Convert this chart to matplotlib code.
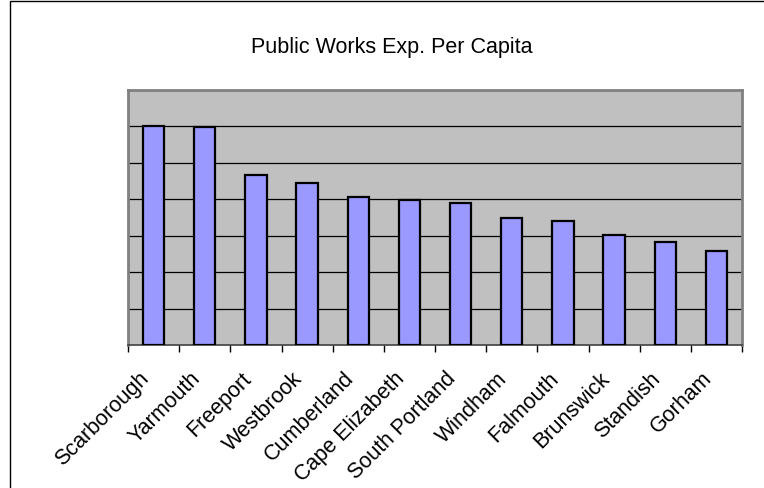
import matplotlib.pyplot as plt
import numpy as np
from matplotlib.patches import Rectangle
from matplotlib.transforms import ScaledTranslation

towns = ['Scarborough', 'Yarmouth', 'Freeport', 'Westbrook', 'Cumberland',
         'Cape Elizabeth', 'South Portland', 'Windham', 'Falmouth',
         'Brunswick', 'Standish', 'Gorham']
exp_per_capita = [6.00, 5.99, 4.66, 4.45, 4.07, 3.97, 3.91, 3.49, 3.40,
                  3.01, 2.82, 2.57]
y_max = 7
grid_levels = [1, 2, 3, 4, 5, 6]

plt.rcParams['font.family'] = ['Liberation Sans', 'DejaVu Sans']

fig = plt.figure(figsize=(7.64, 4.89), dpi=100)
# outer chart frame (runs off the right and bottom edges)
fig.patches.append(Rectangle((10/764, -0.05), 1.2, 1 - 2/489 + 0.05,
                             transform=fig.transFigure, fill=False,
                             edgecolor='black', linewidth=1.0))

ax = fig.add_axes([128/764, 1 - 346/489, (742 - 128)/764, (346 - 91)/489])
ax.set_facecolor('#c0c0c0')

x = np.arange(len(towns))
ax.bar(x, exp_per_capita, width=0.42, color='#9999ff', edgecolor='black',
       linewidth=1.6, zorder=3)

for g in grid_levels:
    ax.axhline(g, color='black', linewidth=0.9, zorder=1)

ax.set_xlim(-0.5, len(towns) - 0.5)
ax.set_ylim(0, y_max)
ax.set_yticks([])

ax.set_xticks(x)
ax.set_xticklabels(towns, rotation=45, ha='right', rotation_mode='anchor',
                   fontsize=15.5)
ax.tick_params(axis='x', which='major', length=0, pad=16)
shift = ScaledTranslation(-15/100, 0, fig.dpi_scale_trans)
for lab in ax.get_xticklabels():
    lab.set_transform(lab.get_transform() + shift)
ax.set_xticks(np.arange(-0.5, len(towns), 1), minor=True)
ax.tick_params(axis='x', which='minor', length=5, width=1, color='black',
               direction='out')

for side in ['top', 'right', 'left']:
    ax.spines[side].set_color('#808080')
    ax.spines[side].set_linewidth(2)
ax.spines['bottom'].set_color('#404040')
ax.spines['bottom'].set_linewidth(1.2)

fig.text(392/764, 1 - 47/489, 'Public Works Exp. Per Capita', ha='center',
         va='center', fontsize=15.5)

fig.savefig('out.png', dpi=100)
